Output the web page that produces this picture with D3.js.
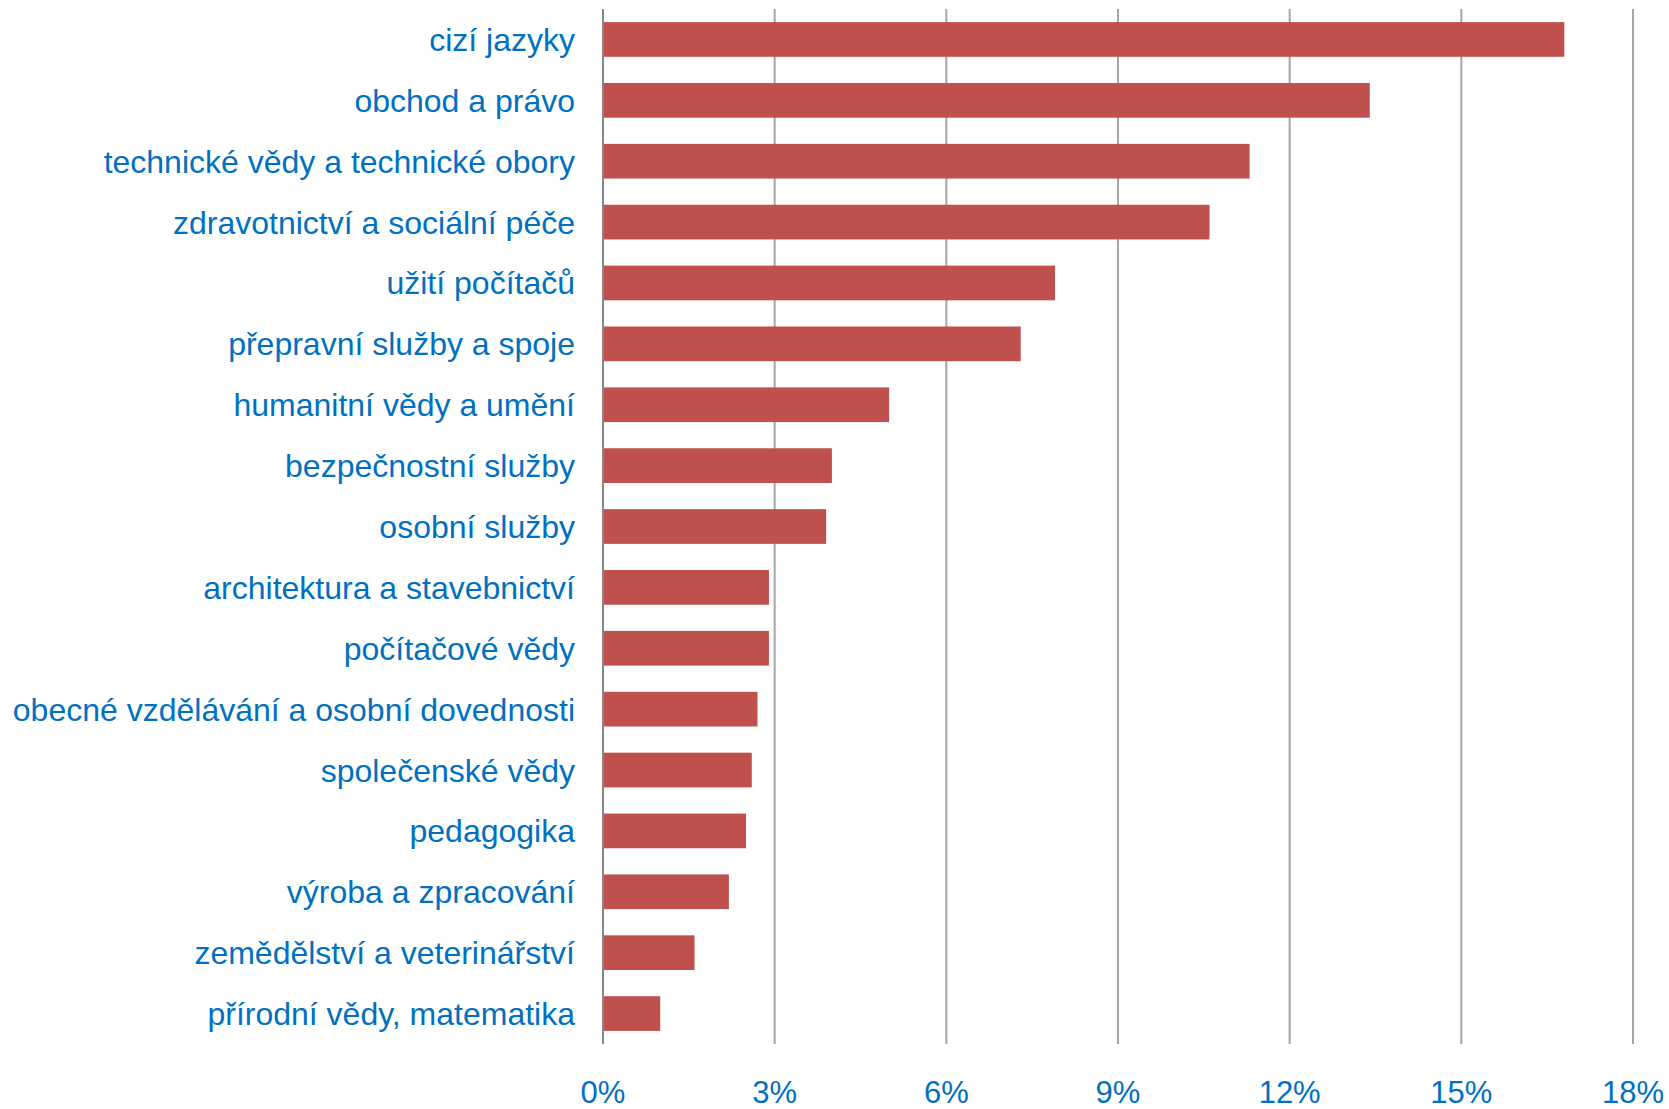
<!DOCTYPE html>
<html><head><meta charset="utf-8">
<script src="https://cdn.jsdelivr.net/npm/d3@7"></script>
<style>body{margin:0;background:#fff}svg{display:block}</style>
</head><body><svg id="c" width="1669" height="1109"></svg>
<script>
const categories = ["cizí jazyky","obchod a právo","technické vědy a technické obory","zdravotnictví a sociální péče","užití počítačů","přepravní služby a spoje","humanitní vědy a umění","bezpečnostní služby","osobní služby","architektura a stavebnictví","počítačové vědy","obecné vzdělávání a osobní dovednosti","společenské vědy","pedagogika","výroba a zpracování","zemědělství a veterinářství","přírodní vědy, matematika"];
const values = [16.8,13.4,11.3,10.6,7.9,7.3,5.0,4.0,3.9,2.9,2.9,2.7,2.6,2.5,2.2,1.6,1.0];
const tickValues = [0,3,6,9,12,15,18];

const svg = d3.select("#c");
const x = d3.scaleLinear().domain([0,18]).range([603,1633]);
const y = d3.scaleBand().domain(categories).range([9,1044]).paddingInner(0.43).paddingOuter(0.215);
const font = "'Liberation Sans', Arial, sans-serif";
const blue = "#0070C0";

// gridlines
svg.append("g").selectAll("line").data(tickValues.slice(1)).join("line")
  .attr("x1", d=>x(d)).attr("x2", d=>x(d)).attr("y1", 9).attr("y2", 1044)
  .attr("stroke", "#A6A6A6").attr("stroke-width", 2);

// bars
svg.append("g").selectAll("rect").data(values).join("rect")
  .attr("x", x(0)).attr("y", (d,i)=>y(categories[i]))
  .attr("width", d=>x(d)-x(0)).attr("height", y.bandwidth())
  .attr("fill", "#C0504D");

// axis line at 0
svg.append("line").attr("x1", x(0)).attr("x2", x(0)).attr("y1", 9).attr("y2", 1044)
  .attr("stroke", "#868686").attr("stroke-width", 2);

// category labels
svg.append("g").selectAll("text").data(categories).join("text")
  .attr("x", 575).attr("y", d=>y(d)+y.bandwidth()/2).attr("dy","0.36em")
  .attr("text-anchor","end").attr("font-family",font).attr("font-size",32)
  .attr("fill",blue).text(d=>d);

// tick labels
svg.append("g").selectAll("text").data(tickValues).join("text")
  .attr("x", d=>x(d)).attr("y", 1103).attr("text-anchor","middle")
  .attr("font-family",font).attr("font-size",31).attr("fill",blue).text(d=>d+"%");
</script></body></html>
